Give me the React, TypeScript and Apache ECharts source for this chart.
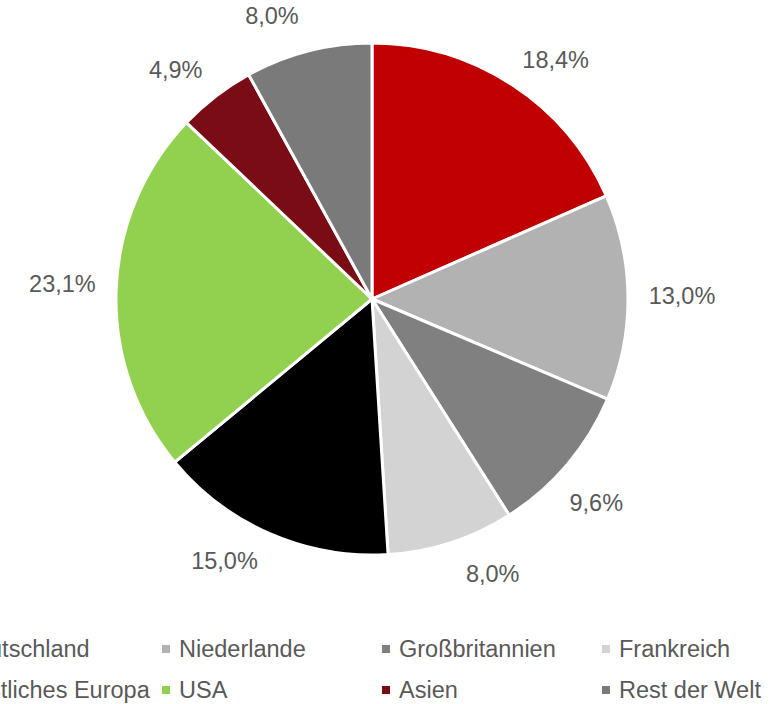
import React, { useEffect, useRef } from "react";
import * as echarts from "echarts";

const categories = [
  "Deutschland",
  "Niederlande",
  "Großbritannien",
  "Frankreich",
  "Restliches Europa",
  "USA",
  "Asien",
  "Rest der Welt",
];
const values = [18.4, 13.0, 9.6, 8.0, 15.0, 23.1, 4.9, 8.0];
const colors = [
  "#C00000",
  "#B2B2B2",
  "#808080",
  "#D3D3D3",
  "#000000",
  "#92D050",
  "#7A0C16",
  "#7A7A7A",
];

const CX = 372;
const CY = 299;
const R = 256;
const FONT = "'Liberation Sans', Arial, sans-serif";

export default function App() {
  const ref = useRef<HTMLDivElement>(null);
  useEffect(() => {
    if (!ref.current) return;
    const chart = echarts.init(ref.current, undefined, { renderer: "svg" });
    const total = values.reduce((a, b) => a + b, 0);
    chart.setOption({
      animation: false,
      textStyle: { fontFamily: FONT },
      legend: {
        left: -63,
        top: 627,
        width: 880,
        icon: "rect",
        itemWidth: 8,
        itemHeight: 8,
        itemGap: 7,
        itemStyle: { borderWidth: 0 },
        textStyle: {
          fontSize: 23.5,
          color: "#595959",
          fontFamily: FONT,
          width: 196,
          lineHeight: 34,
          padding: [0, 0, 0, 4],
        },
        data: categories,
      },
      series: [
        {
          type: "pie",
          center: [CX, CY],
          radius: R,
          startAngle: 90,
          clockwise: true,
          avoidLabelOverlap: false,
          itemStyle: { borderColor: "#ffffff", borderWidth: 3 },
          label: {
            show: true,
            position: "outside",
            fontSize: 23.5,
            color: "#595959",
            fontFamily: FONT,
            formatter: (p: any) => p.value.toFixed(1).replace(".", ",") + "%",
          },
          labelLine: { show: false },
          labelLayout: (p: any) => {
            const i = p.dataIndex;
            let before = 0;
            for (let j = 0; j < i; j++) before += values[j];
            const mid = ((before + values[i] / 2) / total) * Math.PI * 2;
            const th = mid + (6 * Math.PI / 180) * Math.sin(4 * mid);
            const ux = Math.sin(th);
            const uy = -Math.cos(th);
            const d = R + 44 + 10 * Math.pow(Math.abs(ux), 4);
            return {
              x: CX + d * ux,
              y: CY + d * uy,
              align: "center",
              verticalAlign: "middle",
            };
          },
          data: categories.map((name, i) => ({
            name,
            value: values[i],
            itemStyle: { color: colors[i] },
          })),
        },
      ],
    });
    return () => chart.dispose();
  }, []);
  return (
    <div
      ref={ref}
      style={{ position: "absolute", left: 0, top: 0, width: 776, height: 704 }}
    />
  );
}
